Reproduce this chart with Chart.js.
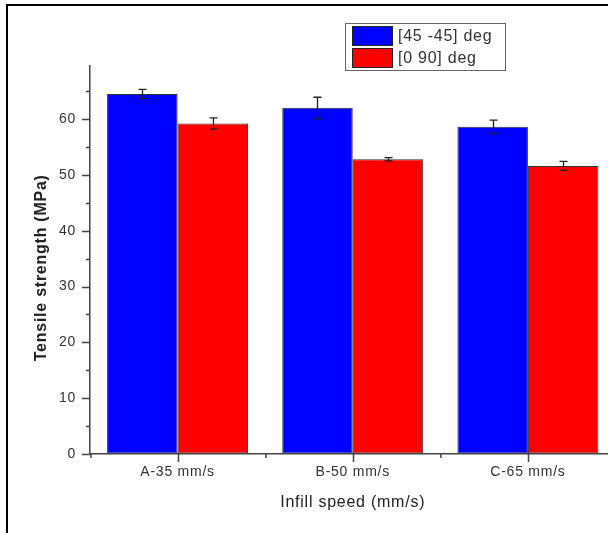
<!DOCTYPE html>
<html>
<head>
<meta charset="utf-8">
<script src="https://cdn.jsdelivr.net/npm/chart.js@4/dist/chart.umd.min.js"></script>
<style>
    body { margin: 0; background: #fff; overflow: hidden; }
    #wrap { position: relative; width: 608px; height: 533px; overflow: hidden; }
    #chart { position: absolute; left: 0; top: 0; display: block; }
    .frame { position: absolute; background: #000; }
</style>
</head>
<body>
<div id="wrap">
    <canvas id="chart" width="620" height="533"></canvas>
    <div class="frame" style="left:6px; top:4px; width:602px; height:2px;"></div>
    <div class="frame" style="left:6px; top:4px; width:2px; height:529px;"></div>
</div>
<script>
// data
var categories = ["A-35 mm/s", "B-50 mm/s", "C-65 mm/s"];
var seriesNames = ["[45 -45] deg", "[0 90] deg"];
var blueValues = [64.5, 62.0, 58.6];
var blueErrors = [0.8, 1.9, 1.2];
var redValues = [59.2, 52.8, 51.6];
var redErrors = [1.0, 0.3, 0.8];
var yMax = 69.5;

var fontFamily = "'Liberation Sans', Arial, sans-serif";
var textColor = "#333";
var axisColor = "#444";

function setSpacing(chart) {
    // the original text is rendered a little wider than plain Arial
    if ("letterSpacing" in chart.ctx) chart.ctx.letterSpacing = "0.75px";
}

var spacingPlugin = {
    id: "spacing",
    beforeUpdate: setSpacing,
    beforeDraw: setSpacing
};

var tickPlugin = {
    id: "ticks",
    afterDraw: function (chart) {
        var ctx = chart.ctx;
        var x = chart.scales.x;
        var y = chart.scales.y;
        ctx.save();
        ctx.strokeStyle = axisColor;
        ctx.lineWidth = 1.5;
        ctx.beginPath();
        y.ticks.forEach(function (t) {
            if (t.value % 5 !== 0) return;
            var py = Math.round(y.getPixelForValue(t.value)) + 0.5;
            var len = t.value % 10 === 0 ? 8 : 4;
            ctx.moveTo(y.right - len, py);
            ctx.lineTo(y.right, py);
        });
        var half = x.width / categories.length / 2;
        categories.forEach(function (c, i) {
            var px = Math.round(x.getPixelForValue(i)) + 0.5;
            ctx.moveTo(px, x.top);
            ctx.lineTo(px, x.top + 8);
            ctx.moveTo(px - half, x.top);
            ctx.lineTo(px - half, x.top + 4);
        });
        ctx.stroke();
        ctx.restore();
    }
};

var errorBarPlugin = {
    id: "errorBars",
    afterDatasetsDraw: function (chart) {
        var ctx = chart.ctx;
        var y = chart.scales.y;
        ctx.save();
        ctx.strokeStyle = "#222";
        ctx.lineWidth = 1.3;
        chart.data.datasets.forEach(function (ds, i) {
            var meta = chart.getDatasetMeta(i);
            meta.data.forEach(function (bar, j) {
                var v = ds.data[j];
                var e = ds.errors[j];
                var top = y.getPixelForValue(v + e);
                var bot = y.getPixelForValue(v - e);
                var bx = Math.round(bar.x) + 0.5;
                ctx.beginPath();
                ctx.moveTo(bx, top);
                ctx.lineTo(bx, bot);
                ctx.moveTo(bx - 4, top);
                ctx.lineTo(bx + 4, top);
                ctx.moveTo(bx - 4, bot);
                ctx.lineTo(bx + 4, bot);
                ctx.stroke();
            });
        });
        ctx.restore();
    }
};

var legendPlugin = {
    id: "boxLegend",
    afterDraw: function (chart) {
        var ctx = chart.ctx;
        ctx.save();
        ctx.strokeStyle = "#666";
        ctx.lineWidth = 1;
        ctx.strokeRect(345.5, 23.5, 160, 47);
        ctx.font = "16px " + fontFamily;
        ctx.textBaseline = "middle";
        chart.data.datasets.forEach(function (ds, i) {
            var top = 26 + i * 22;
            ctx.fillStyle = ds.backgroundColor;
            ctx.fillRect(352, top, 41, 20);
            ctx.strokeStyle = "#222";
            ctx.strokeRect(352.5, top + 0.5, 40, 19);
            ctx.fillStyle = textColor;
            ctx.fillText(ds.label, 398, top + 11);
        });
        ctx.restore();
    }
};

new Chart(document.getElementById("chart"), {
    type: "bar",
    data: {
        labels: categories,
        datasets: [{
            label: seriesNames[0],
            data: blueValues,
            errors: blueErrors,
            backgroundColor: "#0000ff",
            borderColor: "#333",
            borderWidth: 1,
            borderSkipped: false
        }, {
            label: seriesNames[1],
            data: redValues,
            errors: redErrors,
            backgroundColor: "#ff0000",
            borderColor: "#333",
            borderWidth: 1,
            borderSkipped: false
        }]
    },
    options: {
        responsive: false,
        animation: false,
        devicePixelRatio: 1,
        layout: { padding: { top: 66, right: 4.5, left: 0, bottom: 0 } },
        datasets: { bar: { categoryPercentage: 0.805, barPercentage: 1.0 } },
        plugins: {
            legend: { display: false },
            tooltip: { enabled: false }
        },
        scales: {
            x: {
                afterFit: function (s) { s.height = 79; },
                grid: { drawOnChartArea: false, drawTicks: false },
                border: { color: axisColor, width: 1.5 },
                ticks: {
                    padding: 10,
                    color: textColor,
                    font: { family: fontFamily, size: 14 }
                },
                title: {
                    display: true,
                    text: "Infill speed (mm/s)",
                    color: "#222",
                    font: { family: fontFamily, size: 16 },
                    padding: { top: 0, bottom: 20.4 }
                }
            },
            y: {
                min: 0,
                max: yMax,
                afterFit: function (s) { s.width = 90; },
                grid: { drawOnChartArea: false, drawTicks: false },
                border: { color: axisColor, width: 1.5 },
                ticks: {
                    stepSize: 5,
                    padding: 14,
                    color: textColor,
                    font: { family: fontFamily, size: 14 },
                    callback: function (v) { return v % 10 === 0 ? v : ""; }
                },
                title: {
                    display: true,
                    text: "Tensile strength (MPa)   ",
                    color: "#222",
                    font: { family: fontFamily, size: 16, weight: "bold" },
                    padding: { top: 32.4, bottom: 0 }
                }
            }
        }
    },
    plugins: [spacingPlugin, tickPlugin, errorBarPlugin, legendPlugin]
});
</script>
</body>
</html>
